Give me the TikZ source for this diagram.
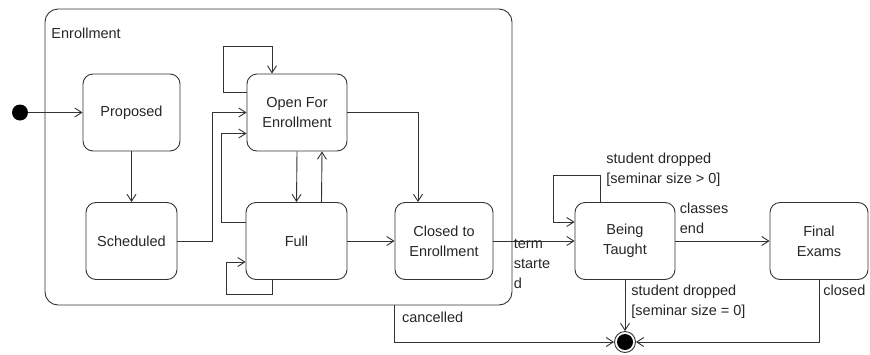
\documentclass[tikz,border=0pt]{standalone}
\usepackage{fontspec}
\setmainfont{Liberation Sans}
\usetikzlibrary{arrows.meta}

\tikzset{
  state/.style={draw, rectangle, rounded corners=10pt, align=center,
    minimum width=98pt, minimum height=77pt, inner sep=0pt},
  composite/.style={draw, rectangle, rounded corners=13pt, inner sep=0pt},
  lbl/.style={align=left, inner sep=1pt},
  startstate/.style={circle, fill, minimum size=16pt, inner sep=0pt},
  endstate/.style={circle, draw, minimum size=21pt, inner sep=0pt,
    path picture={\fill (path picture bounding box.center) circle (8pt);}},
}

\begin{document}
\begin{tikzpicture}[x=1pt, y=-1pt, line width=0.9pt, draw=black!80, text=black!85,
  font=\fontsize{14.5}{20}\selectfont, >={Straight Barb[length=7pt,width=9pt]}]
\useasboundingbox (0,0) rectangle (870,354);

\node[composite, minimum width=467pt, minimum height=296pt] (enroll) at (278.5,157) {};
\node[lbl, anchor=west] (enrolltitle) at (50,33) {Enrollment};

\node[startstate] (init) at (20,112.5) {};
\node[state, minimum width=97pt] (proposed) at (131.5,112.5) {Proposed};
\node[state, minimum width=91pt] (scheduled) at (131.5,241) {Scheduled};
\node[state, minimum width=100pt] (open) at (297,112.5) {Open For\\Enrollment};
\node[state, minimum width=101pt] (full) at (296.5,241) {Full};
\node[state] (closed) at (444,241) {Closed to\\Enrollment};
\node[state, minimum width=100pt] (taught) at (625,241) {Being\\Taught};
\node[state] (exams) at (819,241) {Final\\Exams};
\node[endstate] (final) at (625,342) {};

% inside enrollment
\draw[->] (init) -- (proposed);
\draw[->] (proposed) -- (scheduled);
\draw[->] (scheduled.east) -- ++(35,0) |- (open.west);
\draw[->] ([yshift=19pt]full.west) -- ++(-24,0) |- ([yshift=-21pt]open.west);
\draw[->] ([yshift=20pt]open.west) -| ++(-23,-46) -| ([xshift=-25pt]open.north);
\draw[->] (open.south) -- (full.north);
\draw[->] ([xshift=25pt]full.north) -- ([xshift=25pt]open.south);
\draw[->] (open.east) -| ([xshift=-26pt]closed.north);
\draw[->] (full) -- (closed);
\draw[->] ([xshift=-24pt]full.south) |- ++(-46,14) |- ([yshift=-21pt]full.west);

% after enrollment
\draw[->] (closed) -- node[lbl, anchor=north west, at start, xshift=19pt, yshift=3pt] {term\\starte\\d} (taught);
\draw[->] ([xshift=-25pt]taught.north) |- ++(-47,-27)
  node[lbl, anchor=south west, at start, xshift=5pt, yshift=14pt] {student dropped\\{}[seminar size > 0]}
  |- ([yshift=19pt]taught.west);
\draw[->] (taught) -- node[lbl, anchor=south west, at start, xshift=3pt, yshift=6pt] {classes\\end} (exams);
\draw[->] (taught) -- node[lbl, anchor=north west, at start, xshift=5pt, yshift=-4pt] {student dropped\\{}[seminar size = 0]} (final);
\draw[->] (exams.south) |- node[lbl, anchor=north west, at start, xshift=3pt, yshift=-4pt] {closed} (final);
\draw[->] (enroll.south -| closed.west) |- node[lbl, anchor=north west, at start, xshift=6pt, yshift=-5pt] {cancelled} (final);
\end{tikzpicture}
\end{document}
